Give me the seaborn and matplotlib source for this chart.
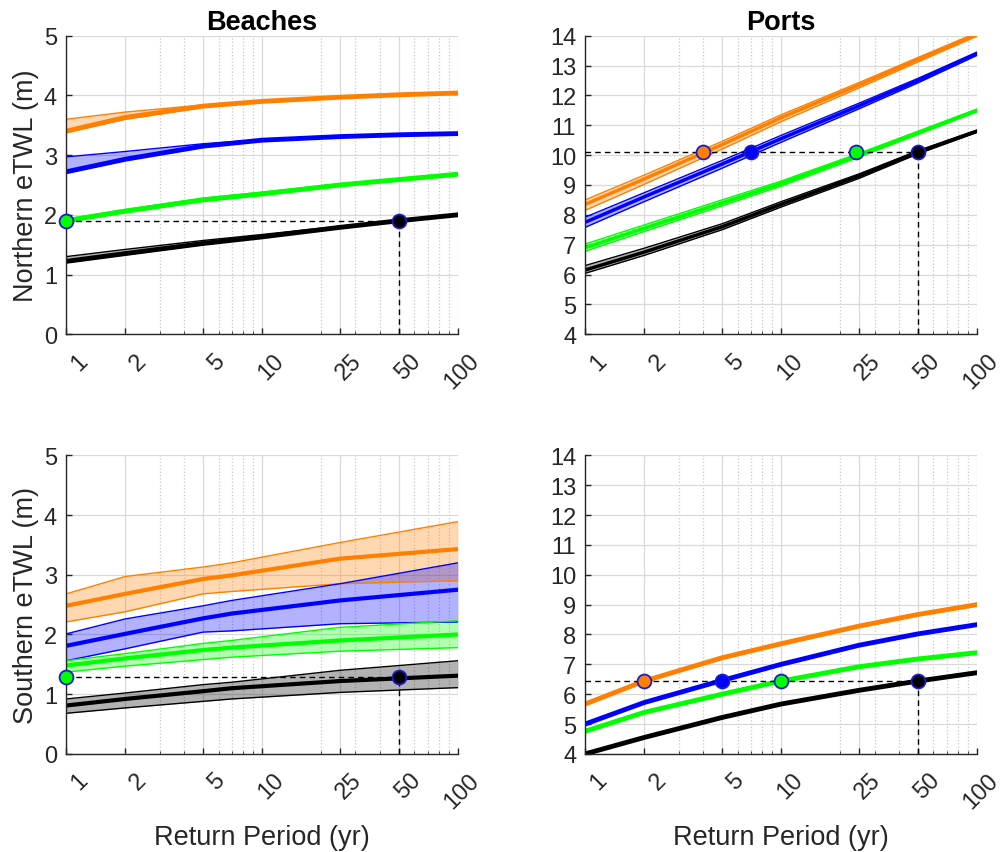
"""
Extreme total water level vs return period, beaches and ports (northern / southern)
"""

import matplotlib
matplotlib.use('Agg')
import matplotlib.pyplot as plt
import matplotlib.ticker as mticker
import matplotlib.transforms as mtransforms
import seaborn as sns

# ---- data ----
rp = [1, 2, 5, 10, 25, 50, 100]
rp_sb = [1, 2, 5, 7, 25, 100]
xtick_vals = [1, 2, 5, 10, 25, 50, 100]
xtick_labels = ['1', '2', '5', '10', '25', '50', '100']

# northern beaches
nb_orange = [3.40, 3.63, 3.82, 3.90, 3.97, 4.01, 4.04]
nb_orange_hi = [3.60, 3.72, 3.84, 3.91, 3.98, 4.02, 4.05]
nb_orange_lo = [3.38, 3.60, 3.80, 3.89, 3.96, 4.00, 4.03]
nb_blue = [2.72, 2.93, 3.15, 3.25, 3.31, 3.34, 3.36]
nb_blue_hi = [2.97, 3.06, 3.19, 3.26, 3.32, 3.35, 3.37]
nb_blue_lo = [2.70, 2.91, 3.14, 3.24, 3.30, 3.33, 3.35]
nb_green = [1.90, 2.06, 2.25, 2.35, 2.50, 2.59, 2.68]
nb_green_hi = [1.93, 2.09, 2.28, 2.38, 2.52, 2.61, 2.70]
nb_green_lo = [1.88, 2.04, 2.23, 2.33, 2.48, 2.57, 2.66]
nb_black = [1.22, 1.35, 1.52, 1.63, 1.79, 1.90, 2.00]
nb_black_hi = [1.30, 1.42, 1.57, 1.67, 1.81, 1.91, 2.01]
nb_black_lo = [1.20, 1.33, 1.50, 1.62, 1.78, 1.89, 2.00]
nb_mark_x = [1, 50]
nb_mark_y = [1.90, 1.90]

# northern ports
np_orange = [8.35, 9.20, 10.35, 11.25, 12.35, 13.20, 14.05]
np_orange_hi = [8.50, 9.33, 10.46, 11.35, 12.43, 13.27, 14.10]
np_orange_lo = [8.15, 9.02, 10.20, 11.12, 12.25, 13.12, 13.98]
np_blue = [7.75, 8.60, 9.70, 10.55, 11.65, 12.50, 13.40]
np_blue_hi = [7.92, 8.74, 9.82, 10.66, 11.74, 12.57, 13.45]
np_blue_lo = [7.58, 8.44, 9.56, 10.43, 11.55, 12.42, 13.34]
np_green = [6.90, 7.55, 8.40, 9.05, 10.00, 10.75, 11.50]
np_green_hi = [7.02, 7.66, 8.50, 9.13, 10.06, 10.80, 11.54]
np_green_lo = [6.78, 7.44, 8.30, 8.96, 9.93, 10.69, 11.45]
np_black = [6.15, 6.75, 7.60, 8.35, 9.30, 10.10, 10.80]
np_black_hi = [6.30, 6.88, 7.70, 8.44, 9.37, 10.15, 10.84]
np_black_lo = [6.04, 6.64, 7.50, 8.26, 9.22, 10.04, 10.76]
np_mark_x = [4, 7, 24, 50]
np_mark_y = [10.1, 10.1, 10.1, 10.1]

# southern beaches
sb_orange = [2.48, 2.68, 2.93, 2.99, 3.27, 3.43]
sb_orange_hi = [2.68, 2.97, 3.13, 3.20, 3.54, 3.89]
sb_orange_lo = [2.21, 2.38, 2.68, 2.72, 2.85, 2.90]
sb_blue = [1.81, 2.01, 2.27, 2.35, 2.57, 2.75]
sb_blue_hi = [2.01, 2.26, 2.48, 2.57, 2.85, 3.20]
sb_blue_lo = [1.56, 1.76, 2.04, 2.06, 2.18, 2.21]
sb_green = [1.48, 1.60, 1.74, 1.78, 1.90, 2.00]
sb_green_hi = [1.56, 1.68, 1.85, 1.90, 2.12, 2.23]
sb_green_lo = [1.37, 1.47, 1.58, 1.62, 1.72, 1.78]
sb_black = [0.81, 0.92, 1.05, 1.10, 1.22, 1.31]
sb_black_hi = [0.92, 1.02, 1.16, 1.20, 1.40, 1.56]
sb_black_lo = [0.68, 0.77, 0.88, 0.92, 1.03, 1.11]
sb_mark_x = [1, 50]
sb_mark_y = [1.28, 1.28]

# southern ports
sp_orange = [5.67, 6.44, 7.22, 7.69, 8.28, 8.67, 9.00]
sp_blue = [5.00, 5.72, 6.46, 7.00, 7.64, 8.02, 8.33]
sp_green = [4.76, 5.39, 6.00, 6.44, 6.92, 7.18, 7.39]
sp_black = [4.00, 4.55, 5.22, 5.67, 6.13, 6.44, 6.72]
sp_mark_x = [2, 5, 10, 50]
sp_mark_y = [6.44, 6.44, 6.44, 6.44]

colors = ['#FF8000', '#0000FF', '#00FF00', '#000000']
edge_col = '#1a1ad0'
txt_col = '#262626'

sns.set_style('ticks')
plt.rcParams['font.family'] = ['Liberation Sans', 'DejaVu Sans']

fig = plt.figure(figsize=(10.02, 8.53), dpi=100)


def style_axes(ax, ylim, yticks):
    ax.set_xscale('log')
    ax.set_xlim(1, 100)
    ax.set_ylim(*ylim)
    ax.set_yticks(yticks)
    ax.xaxis.set_major_locator(mticker.FixedLocator(xtick_vals))
    ax.xaxis.set_major_formatter(mticker.NullFormatter())
    ax.xaxis.set_minor_locator(mticker.FixedLocator(
        [3, 4, 6, 7, 8, 9, 20, 30, 40, 60, 70, 80, 90]))
    ax.xaxis.set_minor_formatter(mticker.NullFormatter())
    ax.grid(which='major', color='#d9d9d9', lw=0.9)
    ax.grid(which='minor', axis='x', color='#c8c8c8', lw=0.9, ls=':')
    ax.set_axisbelow(True)
    ax.tick_params(axis='both', which='major', labelsize=17, direction='in',
                   length=4, width=1, color=txt_col, labelcolor=txt_col)
    ax.tick_params(axis='y', pad=6.5)
    ax.tick_params(axis='x', which='minor', length=2, direction='in')
    # rotated x tick labels, anchored at their top-right corner
    offset = mtransforms.ScaledTranslation(10.5 / 100, -15 / 100, fig.dpi_scale_trans)
    for v, lab in zip(xtick_vals, xtick_labels):
        ax.text(v, 0, lab, transform=ax.get_xaxis_transform() + offset,
                rotation=45, rotation_mode='anchor', ha='right', va='top',
                fontsize=17, color=txt_col, clip_on=False)
    for s in ['left', 'bottom']:
        ax.spines[s].set_color(txt_col)
        ax.spines[s].set_linewidth(1.0)
    sns.despine(ax=ax)


def draw_series(ax, x, means, his, los, lw):
    for m, hi, lo, c in zip(means, his, los, colors):
        if hi is not None:
            ax.fill_between(x, lo, hi, color=c, alpha=0.3, lw=0)
            ax.plot(x, hi, color=c, lw=1.0)
            ax.plot(x, lo, color=c, lw=1.0)
        sns.lineplot(x=x, y=m, color=c, lw=lw, ax=ax)


def draw_markers(ax, mx, my, mcolors):
    # dashed guide: across to the last point, then down to the axis
    ax.plot([1, mx[-1]], [my[-1], my[-1]], color='k', ls='--', lw=1.0,
            dashes=(4, 3), zorder=4)
    ax.plot([mx[-1], mx[-1]], [ax.get_ylim()[0], my[-1]], color='k', ls='--',
            lw=1.0, dashes=(4, 3), zorder=4)
    for x, y, c in zip(mx, my, mcolors):
        ax.plot(x, y, 'o', ms=10, mfc=c, mec=edge_col, mew=1.3, zorder=6,
                clip_on=False)


ax_nb = fig.add_axes([0.066, 0.607, 0.391, 0.350])
ax_np = fig.add_axes([0.584, 0.607, 0.391, 0.350])
ax_sb = fig.add_axes([0.066, 0.115, 0.391, 0.350])
ax_sp = fig.add_axes([0.584, 0.115, 0.391, 0.350])

style_axes(ax_nb, (0, 5), range(0, 6))
style_axes(ax_sb, (0, 5), range(0, 6))
style_axes(ax_np, (4, 14), range(4, 15))
style_axes(ax_sp, (4, 14), range(4, 15))

draw_series(ax_nb, rp,
            [nb_orange, nb_blue, nb_green, nb_black],
            [nb_orange_hi, nb_blue_hi, nb_green_hi, nb_black_hi],
            [nb_orange_lo, nb_blue_lo, nb_green_lo, nb_black_lo], 3.5)
draw_markers(ax_nb, nb_mark_x, nb_mark_y, [colors[2], colors[3]])

draw_series(ax_np, rp,
            [np_orange, np_blue, np_green, np_black],
            [np_orange_hi, np_blue_hi, np_green_hi, np_black_hi],
            [np_orange_lo, np_blue_lo, np_green_lo, np_black_lo], 2.5)
draw_markers(ax_np, np_mark_x, np_mark_y, colors)

draw_series(ax_sb, rp_sb,
            [sb_orange, sb_blue, sb_green, sb_black],
            [sb_orange_hi, sb_blue_hi, sb_green_hi, sb_black_hi],
            [sb_orange_lo, sb_blue_lo, sb_green_lo, sb_black_lo], 3.0)
draw_markers(ax_sb, sb_mark_x, sb_mark_y, [colors[2], colors[3]])

draw_series(ax_sp, rp,
            [sp_orange, sp_blue, sp_green, sp_black],
            [None] * 4, [None] * 4, 3.5)
draw_markers(ax_sp, sp_mark_x, sp_mark_y, colors)

ax_nb.set_title('Beaches', fontsize=19.5, fontweight='bold', pad=5, color='black')
ax_np.set_title('Ports', fontsize=19.5, fontweight='bold', pad=5, color='black')

for ax in [ax_nb, ax_np, ax_sb, ax_sp]:
    ax.set_xlabel('')
    ax.set_ylabel('')
ax_nb.set_ylabel('Northern eTWL (m)', fontsize=19.5, color=txt_col)
ax_sb.set_ylabel('Southern eTWL (m)', fontsize=19.5, color=txt_col)
ax_nb.yaxis.set_label_coords(-0.07, 0.5)
ax_sb.yaxis.set_label_coords(-0.07, 0.5)
ax_sb.set_xlabel('Return Period (yr)', fontsize=19.5, color=txt_col)
ax_sp.set_xlabel('Return Period (yr)', fontsize=19.5, color=txt_col)
ax_sb.xaxis.set_label_coords(0.5, -0.235)
ax_sp.xaxis.set_label_coords(0.5, -0.235)

fig.savefig('out.png', dpi=100)
